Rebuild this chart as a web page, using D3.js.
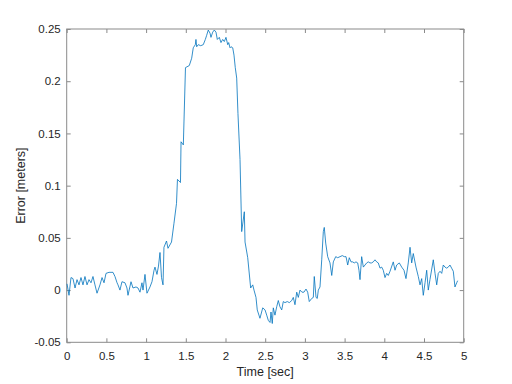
<!DOCTYPE html>
<html><head><meta charset="utf-8">
<script src="https://cdn.jsdelivr.net/npm/d3@7"></script>
<style>
html,body{margin:0;padding:0;background:#fff;}
svg{display:block;font-family:"Liberation Sans",Arial,Helvetica,sans-serif;}
</style></head>
<body>
<svg id="chart" width="512" height="384"></svg>
<script>
const timeSec = [0.004,0.029,0.054,0.079,0.105,0.130,0.155,0.180,0.205,0.230,0.256,0.281,0.306,0.331,0.356,0.382,0.419,0.445,0.470,0.495,0.533,0.583,0.608,0.634,0.646,0.671,0.696,0.734,0.759,0.772,0.810,0.835,0.873,0.898,0.923,0.948,0.961,0.986,1.011,1.024,1.049,1.074,1.100,1.112,1.137,1.156,1.175,1.194,1.213,1.225,1.257,1.276,1.320,1.351,1.383,1.395,1.433,1.440,1.469,1.496,1.544,1.574,1.594,1.620,1.628,1.637,1.657,1.688,1.720,1.746,1.763,1.783,1.805,1.817,1.839,1.859,1.880,1.897,1.922,1.943,1.965,1.985,2.006,2.028,2.040,2.057,2.069,2.091,2.107,2.123,2.141,2.157,2.183,2.204,2.237,2.246,2.280,2.317,2.343,2.359,2.384,2.400,2.434,2.469,2.498,2.519,2.539,2.561,2.573,2.589,2.602,2.623,2.645,2.665,2.686,2.708,2.728,2.749,2.778,2.804,2.834,2.854,2.875,2.897,2.917,2.938,2.963,2.988,3.014,3.035,3.055,3.086,3.106,3.118,3.140,3.156,3.169,3.190,3.212,3.232,3.244,3.262,3.287,3.316,3.338,3.358,3.388,3.413,3.442,3.471,3.496,3.518,3.539,3.559,3.581,3.602,3.622,3.643,3.665,3.681,3.694,3.715,3.736,3.757,3.778,3.798,3.820,3.841,3.861,3.883,3.904,3.924,3.946,3.967,3.987,4.009,4.030,4.050,4.072,4.113,4.135,4.156,4.189,4.219,4.248,4.273,4.302,4.324,4.345,4.365,4.399,4.428,4.450,4.471,4.491,4.513,4.534,4.554,4.575,4.617,4.639,4.660,4.680,4.702,4.723,4.743,4.764,4.786,4.806,4.827,4.848,4.869,4.890,4.912,4.924];
const errorMeters = [0.006,-0.005,0.012,0.011,0.002,0.010,0.005,0.012,0.005,0.013,0.005,0.010,0.007,0.013,0.005,-0.003,0.005,0.012,0.007,0.016,0.017,0.017,0.013,0.007,0.005,0.000,0.008,0.007,0.002,-0.005,0.008,0.002,0.003,0.002,-0.002,0.007,0.000,0.015,-0.003,-0.001,0.003,0.008,0.019,0.022,0.015,0.023,0.036,0.012,0.005,0.041,0.047,0.040,0.046,0.064,0.083,0.106,0.103,0.142,0.139,0.213,0.215,0.222,0.232,0.235,0.240,0.233,0.235,0.234,0.235,0.240,0.244,0.249,0.246,0.242,0.247,0.249,0.247,0.240,0.242,0.237,0.240,0.238,0.242,0.235,0.237,0.232,0.233,0.232,0.225,0.213,0.203,0.169,0.125,0.056,0.075,0.046,0.031,0.002,0.005,0.000,-0.007,-0.019,-0.027,-0.017,-0.019,-0.024,-0.029,-0.031,-0.021,-0.032,-0.017,-0.024,-0.016,-0.010,-0.016,-0.019,-0.011,-0.012,-0.011,-0.012,-0.010,-0.007,-0.014,-0.002,-0.007,0.000,-0.002,-0.002,0.001,-0.002,-0.011,-0.008,-0.007,0.013,-0.007,-0.008,0.000,0.003,0.029,0.056,0.060,0.045,0.032,0.026,0.014,0.027,0.032,0.031,0.032,0.033,0.032,0.032,0.024,0.031,0.027,0.027,0.026,0.027,0.026,0.019,0.010,0.032,0.022,0.024,0.026,0.027,0.026,0.026,0.027,0.029,0.027,0.026,0.021,0.022,0.019,0.012,0.016,0.014,0.018,0.027,0.019,0.024,0.026,0.022,0.019,0.011,0.026,0.041,0.026,0.035,0.022,0.013,0.005,0.011,-0.005,0.007,0.019,0.000,0.010,0.029,0.016,0.005,0.016,0.018,0.016,0.024,0.022,0.021,0.022,0.024,0.021,0.018,0.003,0.007,0.009];
const xTicks = [0,0.5,1,1.5,2,2.5,3,3.5,4,4.5,5];
const yTicks = [-0.05,0,0.05,0.1,0.15,0.2,0.25];
const xLabel = "Time [sec]";
const yLabel = "Error [meters]";

const svg = d3.select("#chart");
const L = 66.7, R = 463.7, T = 29, B = 342.3;
const x = d3.scaleLinear().domain([0,5]).range([L,R]);
const y = d3.scaleLinear().domain([-0.05,0.25]).range([B,T]);
const textColor = "#262626", lineColor = "#8a8a8a", tickLen = 4;
const fmt = d => (d === 0 ? "0" : String(+d.toFixed(2)));

function styleAxis(g){
  g.selectAll(".domain").remove();
  g.selectAll(".tick line").attr("stroke", lineColor).attr("stroke-width", 1);
  g.selectAll(".tick text").attr("fill", textColor).attr("font-size", 11.5);
}
svg.append("g").attr("transform",`translate(0,${B})`)
  .call(d3.axisBottom(x).tickValues(xTicks).tickSize(-tickLen).tickPadding(10).tickFormat(fmt)).call(styleAxis);
svg.append("g").attr("transform",`translate(0,${T})`)
  .call(d3.axisTop(x).tickValues(xTicks).tickSize(-tickLen).tickFormat("")).call(styleAxis);
svg.append("g").attr("transform",`translate(${L},0)`)
  .call(d3.axisLeft(y).tickValues(yTicks).tickSize(-tickLen).tickPadding(6).tickFormat(fmt)).call(styleAxis);
svg.append("g").attr("transform",`translate(${R},0)`)
  .call(d3.axisRight(y).tickValues(yTicks).tickSize(-tickLen).tickFormat("")).call(styleAxis);

svg.append("rect").attr("x",L).attr("y",T).attr("width",R-L).attr("height",B-T)
  .attr("fill","none").attr("stroke",lineColor).attr("stroke-width",1);

const pts = timeSec.map((t,i)=>[t,errorMeters[i]]);
svg.append("path").datum(pts)
  .attr("fill","none").attr("stroke","#0072BD").attr("stroke-width",0.8)
  .attr("stroke-linejoin","round")
  .attr("d", d3.line().x(d=>x(d[0])).y(d=>y(d[1])));

svg.append("text").attr("x",(L+R)/2).attr("y",376).attr("text-anchor","middle")
  .attr("fill",textColor).attr("font-size",12.5).text(xLabel);
svg.append("text").attr("transform",`translate(25,${(T+B)/2}) rotate(-90)`)
  .attr("text-anchor","middle").attr("fill",textColor).attr("font-size",12.5).text(yLabel);
</script>
</body></html>
